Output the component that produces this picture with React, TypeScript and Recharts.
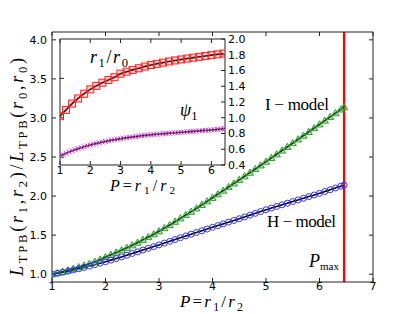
import { LineChart, Line, XAxis, YAxis, ReferenceLine, CartesianGrid } from "recharts";

// main panel: P grid, I-model (green triangles), H-model (blue circles)
const P_MAIN = [
  1.0, 1.1, 1.2, 1.3, 1.4, 1.5, 1.6, 1.7, 1.8, 1.9, 2.0, 2.1, 2.2, 2.3, 2.4, 2.5, 2.6, 2.7, 2.8, 2.9,
  3.0, 3.1, 3.2, 3.3, 3.4, 3.5, 3.6, 3.7, 3.8, 3.9, 4.0, 4.1, 4.2, 4.3, 4.4, 4.5, 4.6, 4.7, 4.8, 4.9,
  5.0, 5.1, 5.2, 5.3, 5.4, 5.5, 5.6, 5.7, 5.8, 5.9, 6.0, 6.1, 6.2, 6.3, 6.4, 6.46,
];
const I_MODEL = [
  1.0, 1.015, 1.032, 1.05, 1.07, 1.09, 1.112, 1.135, 1.16, 1.188, 1.22, 1.248, 1.278, 1.308, 1.338, 1.37, 1.405, 1.44, 1.475, 1.512,
  1.55, 1.59, 1.63, 1.672, 1.715, 1.758, 1.8, 1.843, 1.888, 1.933, 1.978, 2.024, 2.07, 2.116, 2.162, 2.208, 2.254, 2.3, 2.346, 2.393,
  2.44, 2.488, 2.535, 2.583, 2.63, 2.678, 2.726, 2.774, 2.822, 2.87, 2.918, 2.966, 3.014, 3.062, 3.11, 3.138,
];
const H_MODEL = [
  1.0, 1.012, 1.025, 1.039, 1.054, 1.07, 1.087, 1.104, 1.122, 1.141, 1.16, 1.18, 1.2, 1.221, 1.243, 1.265, 1.287, 1.309, 1.331, 1.353,
  1.375, 1.398, 1.421, 1.444, 1.467, 1.49, 1.512, 1.534, 1.556, 1.578, 1.6, 1.622, 1.644, 1.666, 1.688, 1.71, 1.733, 1.756, 1.779, 1.802,
  1.825, 1.846, 1.867, 1.888, 1.909, 1.93, 1.951, 1.972, 1.993, 2.014, 2.035, 2.058, 2.081, 2.104, 2.127, 2.14,
];

// inset: r1/r0 (red squares) on a coarser grid, psi1 (magenta x) on the main grid
const P_R1 = [
  1.0, 1.2, 1.4, 1.6, 1.8, 2.0, 2.2, 2.4, 2.6, 2.8, 3.0, 3.2, 3.4, 3.6, 3.8, 4.0, 4.2, 4.4, 4.6, 4.8,
  5.0, 5.2, 5.4, 5.6, 5.8, 6.0, 6.2, 6.4,
];
const R1_R0 = [
  1.02, 1.1, 1.18, 1.245, 1.305, 1.36, 1.405, 1.445, 1.48, 1.515, 1.56, 1.585, 1.608, 1.628, 1.65, 1.67, 1.685, 1.7, 1.715, 1.728,
  1.74, 1.752, 1.763, 1.774, 1.785, 1.795, 1.805, 1.815,
];
const PSI1 = [
  0.515, 0.533, 0.55, 0.566, 0.581, 0.595, 0.608, 0.62, 0.632, 0.643, 0.654, 0.664, 0.673, 0.682, 0.691, 0.699, 0.707, 0.714, 0.721, 0.728,
  0.734, 0.74, 0.746, 0.752, 0.757, 0.762, 0.767, 0.772, 0.776, 0.78, 0.784, 0.788, 0.791, 0.794, 0.797, 0.8, 0.803, 0.806, 0.809, 0.812,
  0.815, 0.818, 0.821, 0.824, 0.827, 0.83, 0.833, 0.836, 0.839, 0.842, 0.845, 0.848, 0.852, 0.856, 0.86, 0.862,
];

const P_MAX = 6.46;
const MAIN_X_TICKS = [1, 2, 3, 4, 5, 6, 7];
const MAIN_Y_TICKS = [1.0, 1.5, 2.0, 2.5, 3.0, 3.5, 4.0];
const INSET_X_TICKS = [1, 2, 3, 4, 5, 6];
const INSET_Y_TICKS = [0.4, 0.6, 0.8, 1.0, 1.2, 1.4, 1.6, 1.8, 2.0];
const INSET_LEFT_TICKS = [0.5, 1.0, 1.5];

const rows = (xs: number[], ys: number[]) => xs.map((p, i) => ({ p, v: ys[i] }));

const FRAME = "#222";
const tickFont = { fill: "#000", fontSize: 11, fontFamily: "DejaVu Sans" };
const blank = () => "";
const serif = "Liberation Serif";

function triangle(props: any) {
  const { cx, cy, index } = props;
  if (cx == null || cy == null) return <g key={index} />;
  return (
    <path key={index} d={`M${cx},${cy - 3.6}L${cx + 3.6},${cy + 2.6}L${cx - 3.6},${cy + 2.6}Z`}
      fill="rgba(60,170,60,0.35)" stroke="#2ca02c" strokeWidth={1} />
  );
}
function circle(props: any) {
  const { cx, cy, index } = props;
  if (cx == null || cy == null) return <g key={index} />;
  return <circle key={index} cx={cx} cy={cy} r={3} fill="none" stroke="#3030ff" strokeWidth={1} />;
}
function square(props: any) {
  const { cx, cy, index } = props;
  if (cx == null || cy == null) return <g key={index} />;
  return <rect key={index} x={cx - 3.5} y={cy - 3.5} width={7} height={7} fill="rgba(255,80,80,0.25)" stroke="#ff2020" strokeWidth={1} />;
}
function cross(props: any) {
  const { cx, cy, index } = props;
  if (cx == null || cy == null) return <g key={index} />;
  return (
    <path key={index} d={`M${cx - 2.5},${cy - 2.5}L${cx + 2.5},${cy + 2.5}M${cx - 2.5},${cy + 2.5}L${cx + 2.5},${cy - 2.5}`}
      stroke="#d040d0" strokeWidth={1} />
  );
}

function MainChart() {
  return (
    <LineChart width={415} height={314} margin={{ top: 27, right: 37, bottom: 12, left: 22 }}>
      <XAxis xAxisId={0} type="number" dataKey="p" domain={[1, 7]} ticks={MAIN_X_TICKS} allowDataOverflow interval={0}
        height={20} tickSize={-4} tickMargin={4} axisLine={{ stroke: FRAME }} tickLine={{ stroke: FRAME }} tick={tickFont} />
      <XAxis xAxisId="t" orientation="top" type="number" dataKey="p" domain={[1, 7]} ticks={MAIN_X_TICKS} allowDataOverflow interval={0}
        height={5} tickSize={-4} tickFormatter={blank} axisLine={{ stroke: FRAME }} tickLine={{ stroke: FRAME }} />
      <YAxis yAxisId={0} type="number" domain={[0.9, 4.1]} ticks={MAIN_Y_TICKS} allowDataOverflow width={30} interval={0}
        tickSize={-4} tickMargin={9} tickFormatter={(v: number) => v.toFixed(1)}
        axisLine={{ stroke: FRAME }} tickLine={{ stroke: FRAME }} tick={tickFont} />
      <YAxis yAxisId="r" orientation="right" type="number" domain={[0.9, 4.1]} ticks={MAIN_Y_TICKS} allowDataOverflow width={5} interval={0}
        tickSize={-4} tickFormatter={blank} axisLine={{ stroke: FRAME }} tickLine={{ stroke: FRAME }} />
      <ReferenceLine x={P_MAX} stroke="#ff0000" strokeWidth={2.4} />
      <Line data={rows(P_MAIN, I_MODEL)} dataKey="v" stroke="none" dot={triangle} isAnimationActive={false} />
      <Line data={rows(P_MAIN, H_MODEL)} dataKey="v" stroke="none" dot={circle} isAnimationActive={false} />
      <Line data={rows(P_MAIN, I_MODEL)} dataKey="v" type="monotone" stroke="#000" strokeWidth={1.6} dot={false} isAnimationActive={false} />
      <Line data={rows(P_MAIN, H_MODEL)} dataKey="v" type="monotone" stroke="#000" strokeWidth={1.6} dot={false} isAnimationActive={false} />
    </LineChart>
  );
}

function InsetChart() {
  return (
    <LineChart width={260} height={200} margin={{ top: 34, right: 5, bottom: 15, left: 55 }}>
      <CartesianGrid fill="#fff" horizontal={false} vertical={false} xAxisId={0} yAxisId="r" />
      <XAxis xAxisId={0} type="number" dataKey="p" domain={[1, 6.45]} ticks={INSET_X_TICKS} allowDataOverflow interval={0}
        height={20} tickSize={-4} tickMargin={5} axisLine={{ stroke: FRAME }} tickLine={{ stroke: FRAME }} tick={tickFont} />
      <XAxis xAxisId="t" orientation="top" type="number" dataKey="p" domain={[1, 6.45]} ticks={INSET_X_TICKS} allowDataOverflow interval={0}
        height={5} tickSize={-4} tickFormatter={blank} axisLine={{ stroke: FRAME }} tickLine={{ stroke: FRAME }} />
      <YAxis yAxisId="l" type="number" domain={[0.4, 2.0]} ticks={INSET_LEFT_TICKS} allowDataOverflow width={5} interval={0}
        tickSize={-4} tickFormatter={blank} axisLine={{ stroke: FRAME }} tickLine={{ stroke: FRAME }} />
      <YAxis yAxisId="r" orientation="right" type="number" domain={[0.4, 2.0]} ticks={INSET_Y_TICKS} allowDataOverflow width={30} interval={0}
        tickSize={-4} tickMargin={7} tickFormatter={(v: number) => v.toFixed(1)}
        axisLine={{ stroke: FRAME }} tickLine={{ stroke: FRAME }} tick={tickFont} />
      <Line yAxisId="r" data={rows(P_R1, R1_R0)} dataKey="v" stroke="none" dot={square} isAnimationActive={false} />
      <Line yAxisId="r" data={rows(P_MAIN, PSI1)} dataKey="v" stroke="none" dot={cross} isAnimationActive={false} />
      <Line yAxisId="r" data={rows(P_R1, R1_R0)} dataKey="v" type="monotone" stroke="#000" strokeWidth={1.6} dot={false} isAnimationActive={false} />
      <Line yAxisId="r" data={rows(P_MAIN, PSI1)} dataKey="v" type="monotone" stroke="#000" strokeWidth={1.6} dot={false} isAnimationActive={false} />
    </LineChart>
  );
}

function Sub({ children, d = 4 }: { children: any; d?: number }) {
  return <tspan fontSize="0.7em" fontStyle="normal" dy={d}>{children}</tspan>;
}

function Labels() {
  const it = { fontStyle: "italic" as const };
  return (
    <svg width={415} height={314} style={{ position: "absolute", left: 0, top: 0, pointerEvents: "none" }}
      fontFamily={serif} fill="#000">
      {/* y label */}
      <text transform="rotate(-90 23 167)" x={23} y={167} textAnchor="middle" fontSize={18}
        textLength={218} lengthAdjust="spacing">
        <tspan {...it}>L</tspan><Sub>TPB</Sub><tspan dy={-4}>(</tspan><tspan {...it}>r</tspan><Sub>1</Sub>
        <tspan dy={-4}>,</tspan><tspan {...it}>r</tspan><Sub>2</Sub><tspan dy={-4}>)/</tspan>
        <tspan {...it}>L</tspan><Sub>TPB</Sub><tspan dy={-4}>(</tspan><tspan {...it}>r</tspan><Sub>0</Sub>
        <tspan dy={-4}>,</tspan><tspan {...it}>r</tspan><Sub>0</Sub><tspan dy={-4}>)</tspan>
      </text>
      {/* main x label */}
      <text x={180} y={307} fontSize={17} textLength={63} lengthAdjust="spacing">
        <tspan {...it}>P</tspan><tspan>=</tspan><tspan {...it}>r</tspan><Sub>1</Sub>
        <tspan dy={-4}>/</tspan><tspan {...it}>r</tspan><Sub>2</Sub>
      </text>
      {/* inset x label */}
      <text x={110} y={191} fontSize={16} textLength={65} lengthAdjust="spacing">
        <tspan {...it}>P</tspan><tspan>=</tspan><tspan {...it}>r</tspan><Sub d={3}>1</Sub>
        <tspan dy={-3}>/</tspan><tspan {...it}>r</tspan><Sub d={3}>2</Sub>
      </text>
      {/* r1/r0 */}
      <text x={90} y={63} fontSize={18} textLength={38} lengthAdjust="spacing">
        <tspan {...it}>r</tspan><Sub>1</Sub><tspan dy={-4}>/</tspan><tspan {...it}>r</tspan><Sub>0</Sub>
      </text>
      {/* psi1 */}
      <text x={180} y={116} fontSize={18}>
        <tspan {...it}>ψ</tspan><Sub>1</Sub>
      </text>
      <text x={265} y={110} fontSize={17} textLength={64} lengthAdjust="spacing">I − model</text>
      <text x={267} y={227} fontSize={17} textLength={69} lengthAdjust="spacing">H − model</text>
      <text x={309} y={267} fontSize={18}>
        <tspan {...it}>P</tspan><tspan fontSize={11} dy={3}>max</tspan>
      </text>
    </svg>
  );
}

export default function App() {
  return (
    <div style={{ position: "absolute", left: 0, top: 0, width: 415, height: 314, background: "#fff" }}>
      <div style={{ position: "absolute", left: 0, top: 0 }}><MainChart /></div>
      <div style={{ position: "absolute", left: 0, top: 0 }}><InsetChart /></div>
      <Labels />
    </div>
  );
}
